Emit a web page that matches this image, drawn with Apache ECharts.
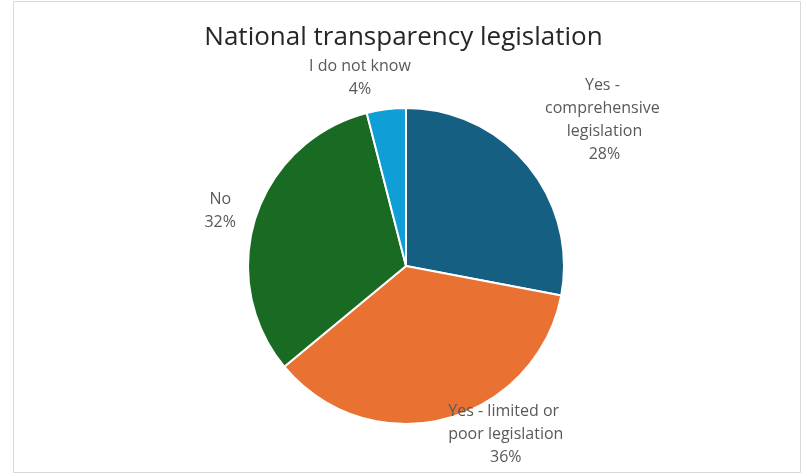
<!DOCTYPE html>
<html><head><meta charset="utf-8">
<script src="https://cdn.jsdelivr.net/npm/echarts@6/dist/echarts.min.js"></script>
<style>html,body{margin:0;padding:0;background:#fff}#c{width:807px;height:476px}</style>
</head><body><div id="c"></div>
<script>
const titleText = "National transparency legislation";
const categories = ["Yes - comprehensive legislation", "Yes - limited or poor legislation", "No", "I do not know"];
const values = [28, 36, 32, 4];
const colors = ["#156082", "#E97132", "#196B24", "#0F9ED5"];
const labelWidths = [124, 142, 60, 140];
const labelNudges = [[64, -39], [53, 6], [-21, -3], [-20, -21]];

const chart = echarts.init(document.getElementById('c'), null, {renderer: 'canvas'});
const FONT = '"Open Sans", sans-serif';
chart.setOption({
  animation: false,
  backgroundColor: '#fff',
  graphic: [{type: 'rect', shape: {x: 13.5, y: 1.5, width: 787, height: 471}, style: {fill: 'none', stroke: '#d9d9d9', lineWidth: 1}}],
  title: {text: titleText, left: 'center', top: 20, textStyle: {fontFamily: FONT, fontSize: 26, fontWeight: 'normal', color: '#262626'}},
  series: [{
    type: 'pie',
    center: [406, 266],
    radius: 158,
    startAngle: 90,
    clockwise: true,
    itemStyle: {borderColor: '#fff', borderWidth: 2},
    label: {
      show: true, position: 'outside', fontFamily: FONT, fontSize: 16, color: '#595959',
      lineHeight: 23, align: 'center', overflow: 'break',
      formatter: p => p.name + '\n' + p.value + '%'
    },
    labelLine: {show: false, length: 10, length2: 0},
    labelLayout: function (params) {
      const n = labelNudges[params.dataIndex];
      return {dx: n[0], dy: n[1], align: 'center', verticalAlign: 'middle'};
    },
    data: categories.map((c, i) => ({name: c, value: values[i], itemStyle: {color: colors[i]}, label: {width: labelWidths[i]}}))
  }]
});
</script></body></html>
